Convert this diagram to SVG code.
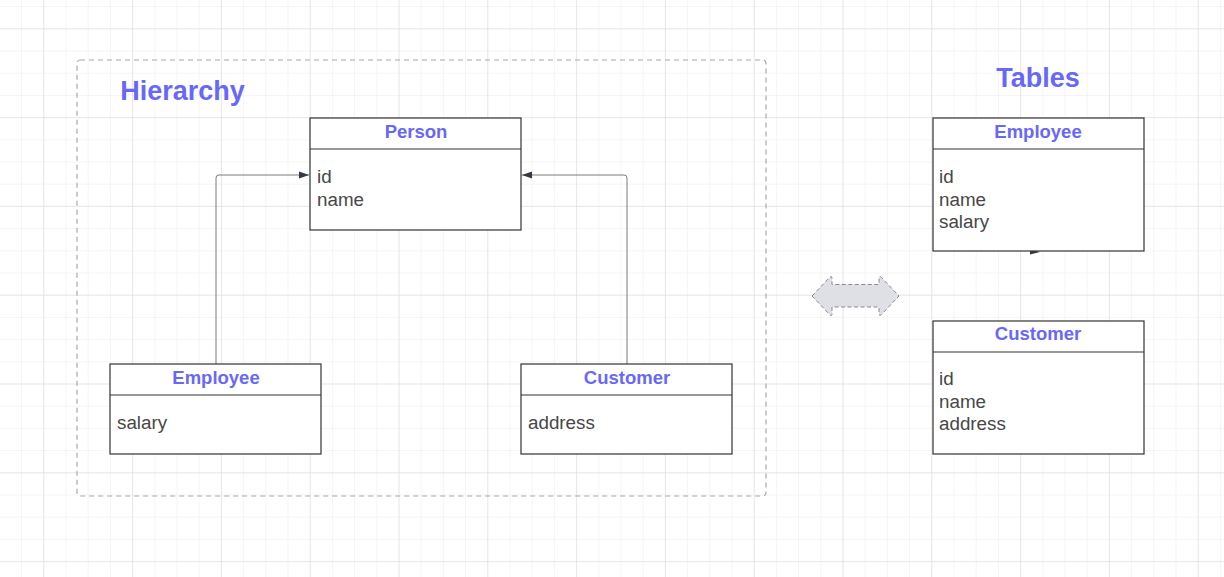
<svg xmlns="http://www.w3.org/2000/svg" width="1224" height="577" viewBox="0 0 1224 577">
<defs>
<pattern id="minor" x="43.3" y="28.3" width="22.2" height="22.2" patternUnits="userSpaceOnUse">
<path d="M0 0H22.2M0 0V22.2" fill="none" stroke="#ececec" stroke-width="1"/>
</pattern>
<pattern id="major" x="43.3" y="28.3" width="88.8" height="88.8" patternUnits="userSpaceOnUse">
<path d="M0 0H88.8M0 0V88.8" fill="none" stroke="#dadada" stroke-width="1"/>
</pattern>
<marker id="arr" viewBox="0 0 10 10" refX="10" refY="5" markerWidth="10" markerHeight="10" markerUnits="userSpaceOnUse" orient="auto">
<path d="M0 1.5L10 5L0 8.5Z" fill="#333a44"/>
</marker>
<style>
.box{fill:#fff;stroke:#333;stroke-width:1.2}
.sep{stroke:#333;stroke-width:1.2}
.title{font-family:"Liberation Sans",Arial,sans-serif;font-weight:bold;font-size:18.5px;fill:#6868f8;text-anchor:middle}
.field{font-family:"Liberation Sans",Arial,sans-serif;font-size:18.8px;fill:#474747}
.head{font-family:"Liberation Sans",Arial,sans-serif;font-weight:bold;font-size:27px;fill:#6868f8}
.conn{fill:none;stroke:#7a7a7a;stroke-width:1}
</style>
</defs>
<rect width="1224" height="577" fill="#fff"/>
<rect width="1224" height="577" fill="url(#minor)"/>
<rect width="1224" height="577" fill="url(#major)"/>

<g id="container">
<rect x="77" y="60" width="689" height="436" rx="3" fill="none" stroke="#a8a8a8" stroke-width="1.2" stroke-dasharray="5,4"/>
<text class="head" x="182.5" y="100" text-anchor="middle">Hierarchy</text>
</g>

<g id="tables-label">
<text class="head" x="1038" y="87" text-anchor="middle">Tables</text>
</g>

<g id="connectors">
<path class="conn" d="M216 364V178Q216 175 219 175H309" marker-end="url(#arr)"/>
<path class="conn" d="M627 364V178Q627 175 624 175H522" marker-end="url(#arr)"/>
<path d="M1030 249.5L1040 252L1030 254.5Z" fill="#333a44"/>
</g>

<g id="person">
<rect class="box" x="310" y="118" width="211" height="112"/>
<line class="sep" x1="310" y1="149" x2="521" y2="149"/>
<text class="title" x="416" y="138">Person</text>
<text class="field" x="317" y="183">id</text>
<text class="field" x="317" y="206">name</text>
</g>

<g id="employee">
<rect class="box" x="110" y="364" width="211" height="90"/>
<line class="sep" x1="110" y1="395" x2="321" y2="395"/>
<text class="title" x="216" y="384">Employee</text>
<text class="field" x="117" y="429">salary</text>
</g>

<g id="customer">
<rect class="box" x="521" y="364" width="211" height="90"/>
<line class="sep" x1="521" y1="395" x2="732" y2="395"/>
<text class="title" x="627" y="384">Customer</text>
<text class="field" x="528" y="429">address</text>
</g>

<g id="double-arrow">
<path d="M812 296L829.5 277.5Q832 275 832 278.5V284.5H879V278.5Q879 275 881.5 277.5L899 296L881.5 314.5Q879 317 879 313.5V307H832V313.5Q832 317 829.5 314.5Z" fill="#dfe0e5" stroke="#8a8a8a" stroke-width="1" stroke-dasharray="4,2.5" stroke-linejoin="round"/>
</g>

<g id="employee-table">
<rect class="box" x="933" y="118" width="211" height="133"/>
<line class="sep" x1="933" y1="149" x2="1144" y2="149"/>
<text class="title" x="1038" y="138">Employee</text>
<text class="field" x="939" y="183">id</text>
<text class="field" x="939" y="206">name</text>
<text class="field" x="939" y="228">salary</text>
</g>

<g id="customer-table">
<rect class="box" x="933" y="321" width="211" height="133"/>
<line class="sep" x1="933" y1="352" x2="1144" y2="352"/>
<text class="title" x="1038" y="340">Customer</text>
<text class="field" x="939" y="385">id</text>
<text class="field" x="939" y="408">name</text>
<text class="field" x="939" y="430">address</text>
</g>
</svg>
